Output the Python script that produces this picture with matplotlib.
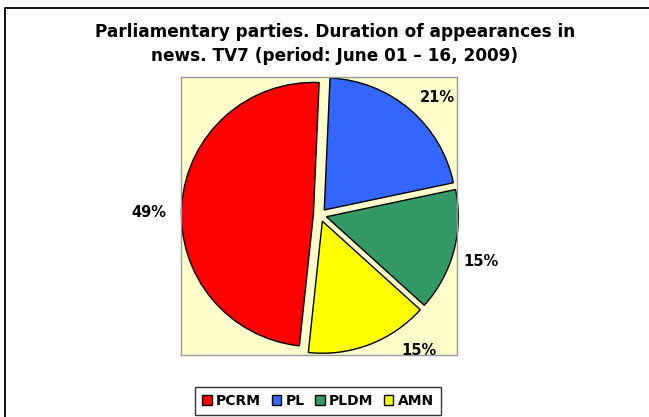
import numpy as np
import matplotlib.pyplot as plt
from matplotlib.lines import Line2D

parties = ['PCRM', 'PL', 'PLDM', 'AMN']
shares = [49, 21, 15, 15]
colors = ['#FF0000', '#3366FF', '#339966', '#FFFF00']
title = 'Parliamentary parties. Duration of appearances in\nnews. TV7 (period: June 01 \u2013 16, 2009)'

# where Excel put the percentage labels (angle in degrees, distance in radii)
label_angle = [179, 45, -16, -54]
label_dist = [1.30, 1.26, 1.27, 1.27]


def main():
    fig = plt.figure(figsize=(6.49, 4.17), dpi=100)

    # outer frame (only left and top edges visible in the crop)
    fig.add_artist(Line2D([5 / 649, 5 / 649, 1.0], [0.0, 1 - 8 / 417, 1 - 8 / 417],
                          transform=fig.transFigure, color='black', lw=1.3))

    fig.text(335 / 649, 1 - 44 / 417, title, ha='center', va='center',
             fontsize=12.2, fontweight='bold', linespacing=1.38)

    ax = fig.add_axes([181 / 649, 1 - 355 / 417, 276 / 649, 278 / 417])
    start = 90 - 2.5 + 360 * shares[0] / sum(shares)
    wedges, texts, autotexts = ax.pie(
        shares, colors=colors, startangle=start, counterclock=False,
        explode=[0.05] * len(shares), autopct='%.0f%%', pctdistance=1.22,
        wedgeprops=dict(edgecolor='black', linewidth=1.0),
        textprops=dict(fontsize=10.5, fontweight='bold', color='black'))

    for t, a, d in zip(autotexts, label_angle, label_dist):
        t.set_position((d * np.cos(np.radians(a)), d * np.sin(np.radians(a))))
        t.set_clip_on(False)

    ax.set_aspect('auto')
    ax.set_xlim(-1.053, 1.038)
    ax.set_ylim(-1.06, 1.045)
    ax.set_frame_on(True)
    ax.set_facecolor('#FFFFCC')
    for s in ax.spines.values():
        s.set_color('#999999')
        s.set_linewidth(1.0)
    ax.set_xticks([])
    ax.set_yticks([])

    leg = fig.legend(wedges, parties, loc='center', ncol=4,
                     bbox_to_anchor=(318 / 649, 1 - 401 / 417),
                     prop=dict(size=10, weight='bold'), fancybox=False,
                     edgecolor='black', handlelength=0.7, handleheight=0.7,
                     handletextpad=0.3, columnspacing=0.75, borderpad=0.5,
                     borderaxespad=0)
    leg.get_frame().set_linewidth(1.0)

    fig.savefig('out.png', dpi=100, facecolor='white')


if __name__ == '__main__':
    main()
